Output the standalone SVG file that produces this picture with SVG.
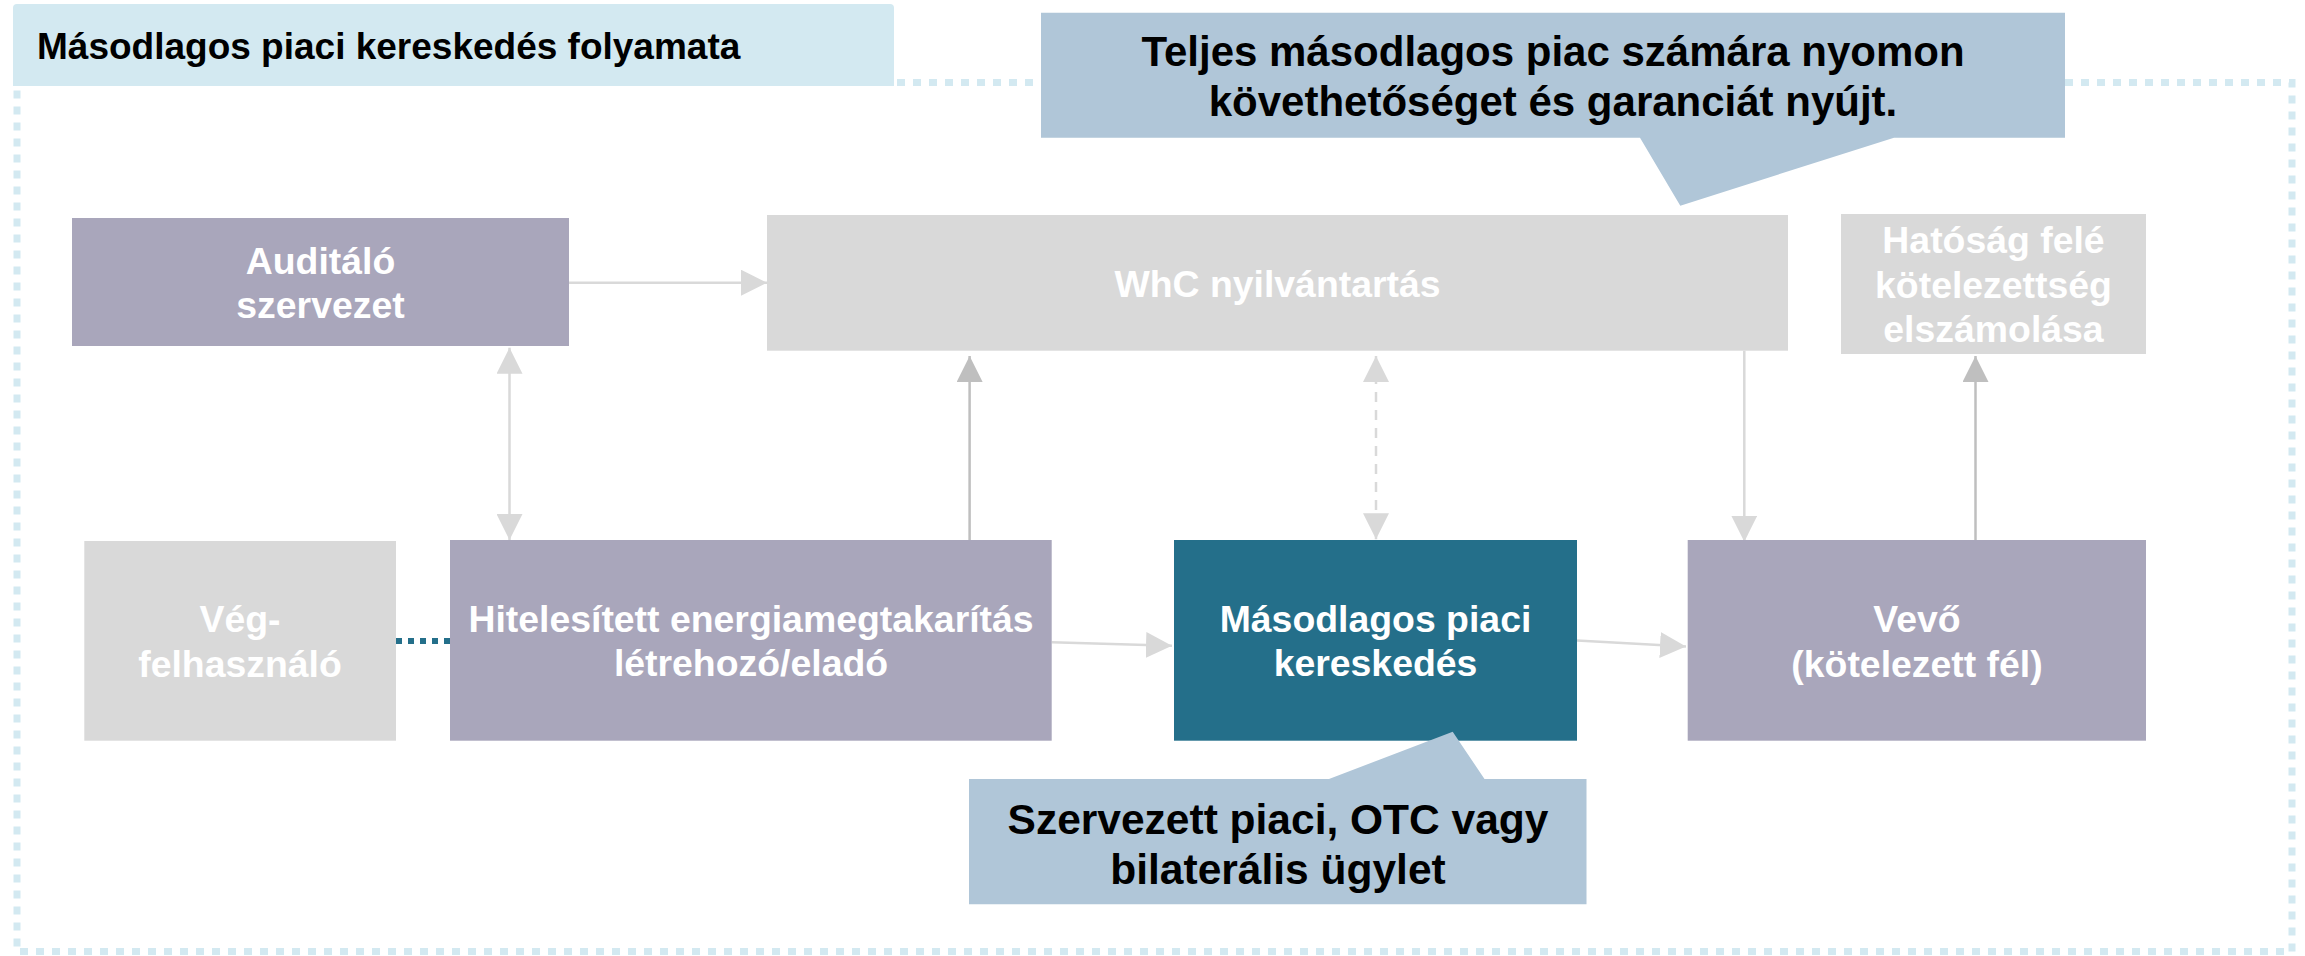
<svg xmlns="http://www.w3.org/2000/svg" width="2305" height="956" viewBox="0 0 2305 956">
  <defs>
    <style>
      .t { font-family: "Liberation Sans", Arial, sans-serif; font-weight: bold; text-anchor: middle; }
      .nodeT { font-size: 37.4px; fill: #FFFFFF; }
      .callT { font-size: 42px; fill: #000000; }
      .purple { fill: #A9A6BB; }
      .gray { fill: #D9D9D9; }
      .teal { fill: #246F8A; }
      .callout { fill: #B0C6D8; }
      .conn { fill: none; stroke: #D9D9D9; stroke-width: 2.5; }
      .connDark { fill: none; stroke: #BFBFBF; stroke-width: 2.5; }
    </style>
    <marker id="ah" markerUnits="userSpaceOnUse" markerWidth="26" markerHeight="26" refX="26" refY="13" orient="auto-start-reverse" viewBox="0 0 26 26">
      <path d="M0,0 L26,13 L0,26 Z" fill="#D9D9D9"/>
    </marker>
    <marker id="ahDark" markerUnits="userSpaceOnUse" markerWidth="26" markerHeight="26" refX="26" refY="13" orient="auto-start-reverse" viewBox="0 0 26 26">
      <path d="M0,0 L26,13 L0,26 Z" fill="#BFBFBF"/>
    </marker>
  </defs>

  <rect x="0" y="0" width="2305" height="956" fill="#FFFFFF"/>

  <!-- outer dashed frame -->
  <g id="frame">
    <rect x="17" y="82.5" width="2275" height="869" fill="none" stroke="#D3E9F1" stroke-width="7" stroke-dasharray="8 8"/>
  </g>

  <!-- title bar -->
  <g id="title">
    <path d="M13,86 V8 Q13,4 17,4 H890 Q894,4 894,8 V86 Z" fill="#D3E9F1"/>
    <text class="t" x="37" y="59" font-size="37" style="text-anchor:start" fill="#000000">Másodlagos piaci kereskedés folyamata</text>
  </g>

  <!-- connectors -->
  <g id="connectors">
    <line class="conn" x1="569" y1="282.7" x2="767" y2="282.7" marker-end="url(#ah)"/>
    <line class="conn" x1="509.5" y1="347.7" x2="509.5" y2="540" marker-start="url(#ah)" marker-end="url(#ah)"/>
    <line class="connDark" x1="969.6" y1="540" x2="969.6" y2="356" marker-end="url(#ahDark)"/>
    <line class="conn" x1="1051.7" y1="642.3" x2="1172" y2="645.7" marker-end="url(#ah)"/>
    <line x1="396" y1="641" x2="450" y2="641" stroke="#246F8A" stroke-width="6" stroke-dasharray="6 6"/>
    <line class="conn" x1="1376" y1="356" x2="1376" y2="539.3" stroke-dasharray="10 8" marker-start="url(#ah)" marker-end="url(#ah)"/>
    <line class="conn" x1="1577" y1="640.5" x2="1686" y2="646.5" marker-end="url(#ah)"/>
    <line class="conn" x1="1744.3" y1="350.7" x2="1744.3" y2="541.7" marker-end="url(#ah)"/>
    <line class="connDark" x1="1975.5" y1="540" x2="1975.5" y2="356" marker-end="url(#ahDark)"/>
  </g>

  <!-- nodes -->
  <g id="auditalo">
    <rect class="purple" x="72" y="218" width="497" height="128"/>
    <text class="t nodeT" x="320.5" y="274">Auditáló</text>
    <text class="t nodeT" x="320.5" y="318">szervezet</text>
  </g>

  <g id="whc">
    <rect class="gray" x="767" y="215" width="1021" height="135.7"/>
    <text class="t nodeT" x="1277.5" y="296.5">WhC nyilvántartás</text>
  </g>

  <g id="hatosag">
    <rect class="gray" x="1841" y="214" width="305" height="140"/>
    <text class="t nodeT" x="1993.5" y="253">Hatóság felé</text>
    <text class="t nodeT" x="1993.5" y="297.5">kötelezettség</text>
    <text class="t nodeT" x="1993.5" y="341.5">elszámolása</text>
  </g>

  <g id="vegfelhasznalo">
    <rect class="gray" x="84.3" y="541" width="311.7" height="199.7"/>
    <text class="t nodeT" x="240" y="632">Vég-</text>
    <text class="t nodeT" x="240" y="676.5">felhasználó</text>
  </g>

  <g id="hitelesitett">
    <rect class="purple" x="450" y="540" width="601.7" height="200.7"/>
    <text class="t nodeT" x="751" y="632">Hitelesített energiamegtakarítás</text>
    <text class="t nodeT" x="751" y="676">létrehozó/eladó</text>
  </g>

  <g id="masodlagos">
    <rect class="teal" x="1174" y="540" width="403" height="200.7"/>
    <text class="t nodeT" x="1375.5" y="632">Másodlagos piaci</text>
    <text class="t nodeT" x="1375.5" y="676">kereskedés</text>
  </g>

  <g id="vevo">
    <rect class="purple" x="1687.7" y="540" width="458.3" height="200.7"/>
    <text class="t nodeT" x="1917" y="632">Vevő</text>
    <text class="t nodeT" x="1917" y="676.5">(kötelezett fél)</text>
  </g>

  <!-- callouts -->
  <g id="callout-top">
    <path class="callout" d="M1041,12.7 H2065 V137.7 H1894 L1680.3,205.7 L1640,137.7 H1041 Z"/>
    <text class="t callT" x="1553" y="66">Teljes másodlagos piac számára nyomon</text>
    <text class="t callT" x="1553" y="116">követhetőséget és garanciát nyújt.</text>
  </g>

  <g id="callout-bottom">
    <path class="callout" d="M969,779 H1329 L1452.7,731.7 L1484.5,779 H1586.5 V904.3 H969 Z"/>
    <text class="t callT" x="1278" y="834" font-size="42.5" style="font-size:42.5px">Szervezett piaci, OTC vagy</text>
    <text class="t callT" x="1278" y="884" style="font-size:42.5px">bilaterális ügylet</text>
  </g>
</svg>
